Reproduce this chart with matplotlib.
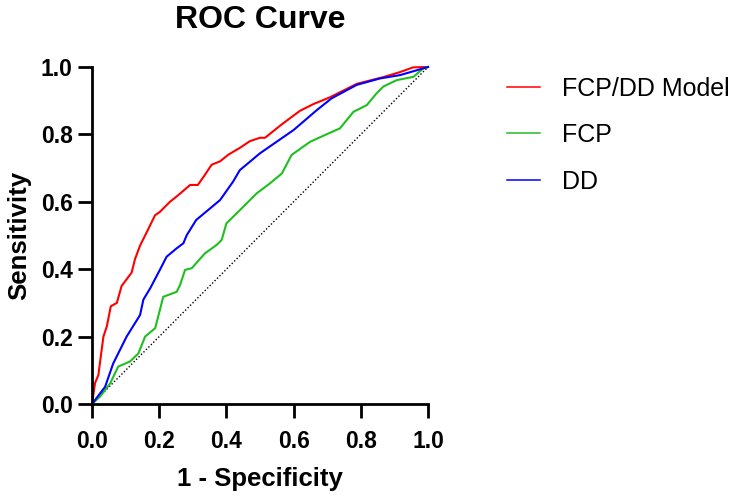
"""ROC curve comparison chart."""

import matplotlib
matplotlib.use("Agg")
import matplotlib.pyplot as plt

# FCP/DD combined model
model_fpr = [0.0, 0.009, 0.019, 0.026, 0.034, 0.044, 0.056, 0.074, 0.088, 0.118, 0.128,
             0.143, 0.168, 0.1875, 0.202, 0.232, 0.257, 0.292, 0.315, 0.336, 0.356,
             0.381, 0.406, 0.44, 0.47, 0.50, 0.515, 0.54, 0.565, 0.619, 0.659,
             0.708, 0.748, 0.788, 0.867, 0.917, 0.956, 1.0]
model_tpr = [0.0, 0.062, 0.086, 0.14, 0.20, 0.23, 0.29, 0.30, 0.35, 0.39, 0.43,
             0.47, 0.52, 0.56, 0.57, 0.60, 0.62, 0.65, 0.65, 0.68, 0.71,
             0.72, 0.74, 0.76, 0.78, 0.79, 0.79, 0.81, 0.83, 0.87, 0.89,
             0.91, 0.93, 0.95, 0.97, 0.985, 0.999, 1.0]

# FCP alone
fcp_fpr = [0.0, 0.024, 0.054, 0.078, 0.113, 0.138, 0.158, 0.188, 0.202, 0.212, 0.252,
           0.262, 0.277, 0.297, 0.336, 0.371, 0.386, 0.40, 0.45, 0.49, 0.53,
           0.565, 0.594, 0.649, 0.693, 0.738, 0.778, 0.818, 0.847, 0.867, 0.907,
           0.957, 0.986, 1.0]
fcp_tpr = [0.0, 0.022, 0.061, 0.111, 0.126, 0.15, 0.20, 0.225, 0.279, 0.318, 0.333,
           0.353, 0.398, 0.403, 0.447, 0.472, 0.487, 0.536, 0.585, 0.625, 0.655,
           0.684, 0.739, 0.778, 0.798, 0.818, 0.867, 0.887, 0.922, 0.942, 0.961,
           0.971, 0.996, 1.0]

# DD alone
dd_fpr = [0.0, 0.039, 0.063, 0.103, 0.143, 0.153, 0.173, 0.202, 0.222, 0.252, 0.272,
          0.282, 0.31, 0.381, 0.42, 0.44, 0.50, 0.60, 0.669, 0.713, 0.788,
          0.857, 0.917, 1.0]
dd_tpr = [0.0, 0.051, 0.12, 0.20, 0.264, 0.31, 0.343, 0.398, 0.437, 0.462, 0.477,
          0.501, 0.546, 0.605, 0.66, 0.694, 0.744, 0.813, 0.872, 0.907, 0.947,
          0.966, 0.976, 1.0]

tick_values = [0.0, 0.2, 0.4, 0.6, 0.8, 1.0]

plt.rcParams["font.family"] = ["Liberation Sans", "DejaVu Sans"]

fig = plt.figure(figsize=(7.5, 4.98), dpi=100)
ax = fig.add_axes([92 / 750, 94 / 498, 336 / 750, 337 / 498])

ax.plot([0, 1], [0, 1], color="black", lw=1, linestyle=(0, (1, 1.5)), clip_on=False)
ax.plot(model_fpr, model_tpr, color="#ff0000", lw=1.5, label="FCP/DD Model", clip_on=False)
ax.plot(fcp_fpr, fcp_tpr, color="#1fbf1f", lw=1.5, label="FCP", clip_on=False)
ax.plot(dd_fpr, dd_tpr, color="#0000ff", lw=1.5, label="DD", clip_on=False)

ax.set_xlim(0, 1)
ax.set_ylim(0, 1)
ax.set_xticks(tick_values)
ax.set_yticks(tick_values)
ax.set_xticklabels([f"{t:.1f}" for t in tick_values], fontsize=16.5, fontweight="bold")
ax.set_yticklabels([f"{t:.1f}" for t in tick_values], fontsize=16.5, fontweight="bold")
ax.tick_params(width=2, length=10, direction="out")
ax.tick_params(axis="x", pad=9)
ax.tick_params(axis="y", pad=4)

for side in ["top", "right"]:
    ax.spines[side].set_visible(False)
for side in ["left", "bottom"]:
    ax.spines[side].set_linewidth(2)

ax.set_title("ROC Curve", fontsize=23, fontweight="bold", pad=28)
ax.set_xlabel("1 - Specificity", fontsize=18.5, fontweight="bold", labelpad=10)
ax.set_ylabel("Sensitivity", fontsize=18.5, fontweight="bold", labelpad=7)

leg = fig.legend(loc="center left", bbox_to_anchor=(507 / 750, 1 - 135 / 498),
                 frameon=False, fontsize=18, handlelength=1.32, handletextpad=0.88,
                 labelspacing=0.9, borderpad=0, borderaxespad=0)
for line in leg.get_lines():
    line.set_linewidth(1.1)

plt.savefig("out.png", dpi=100)
plt.close()
